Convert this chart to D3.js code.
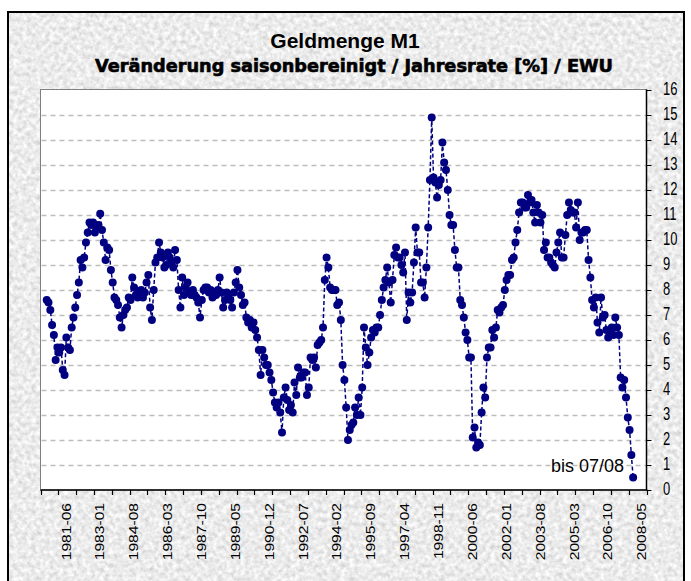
<!DOCTYPE html>
<html>
<head>
<meta charset="utf-8">
<script src="https://cdn.jsdelivr.net/npm/d3@7"></script>
<style>
  body { margin: 0; background: #fff; }
  text { font-family: "Liberation Sans", Arial, sans-serif; }
</style>
</head>
<body>
<svg id="chart" width="691" height="581"></svg>
<script>
// ---- data ----
var title = "Geldmenge M1";
var subtitle = "Veränderung saisonbereinigt / Jahresrate [%] / EWU";
var note = "bis 07/08";

var tickLabels = ["1981-06", "1983-01", "1984-08", "1986-03", "1987-10", "1989-05",
    "1990-12", "1992-07", "1994-02", "1995-09", "1997-04", "1998-11",
    "2000-06", "2002-01", "2003-08", "2005-03", "2006-10", "2008-05"];

var yTicks = [0, 1, 2, 3, 4, 5, 6, 7, 8, 9, 10, 11, 12, 13, 14, 15, 16];

// M1, Veränderung ggü. Vorjahr in %, monatlich
var m1Growth = [
    7.6, 7.5, 7.2, 6.6, 6.2, 5.2, 5.7, 5.5, 5.7, 4.8,
    4.6, 6.1, 5.7, 5.6, 6.5, 6.9, 7.3, 7.8, 8.3, 9.2,
    8.9, 9.3, 9.9, 10.3, 10.7, 10.6, 10.7, 10.3, 10.5, 10.6,
    11.05, 10.4, 9.9, 9.2, 9.7, 9.6, 8.8, 8.3, 7.7, 7.6,
    7.4, 6.9, 6.5, 7.0, 7.2, 7.3, 7.7, 7.6, 8.5, 8.1,
    7.8, 7.7, 7.9, 8.0, 7.7, 7.9, 8.3, 8.6, 7.3, 6.8,
    8.0, 9.1, 9.3, 9.9, 9.5, 9.3, 8.9, 9.0, 9.5, 9.3,
    9.1, 8.9, 9.6, 9.2, 8.0, 7.3, 8.5, 7.8, 8.1, 8.3,
    7.9, 7.8, 8.0, 7.8, 7.7, 7.5, 6.9, 7.6, 8.0, 8.1,
    8.1, 7.9, 8.0, 7.7, 7.8, 7.8, 8.0, 8.5, 7.9, 7.3,
    7.6, 7.9, 7.8, 7.6, 7.3, 7.9, 8.3, 8.8, 8.1, 7.8,
    7.4, 7.5, 6.9, 6.7, 6.8, 6.5, 6.7, 6.4, 6.1, 5.6,
    4.6, 5.6, 5.3, 5.0, 5.0, 4.7, 4.4, 3.9, 3.5, 3.3,
    3.5, 3.1, 2.3, 3.7, 4.1, 3.6, 3.2, 3.4, 3.1, 4.3,
    3.8, 4.9, 4.5, 4.5, 4.7, 4.7, 3.8, 4.1, 5.3, 5.2,
    5.3, 4.9, 5.8, 5.9, 6.0, 6.5, 8.4, 9.3, 8.9, 8.1,
    8.0, 8.0, 8.0, 7.4, 7.5, 6.8, 5.0, 4.4, 3.3, 2.0,
    2.4, 2.6, 2.7, 3.3, 3.0, 3.7, 3.0, 4.1, 6.5, 5.7,
    5.0, 5.5, 6.1, 6.4, 6.3, 6.5, 6.5, 7.0, 7.6, 8.1,
    8.4, 8.9, 8.3, 7.5, 8.4, 9.4, 9.7, 9.3, 9.3, 9.0,
    8.7, 9.5, 6.8, 7.9, 7.5, 7.9, 9.1, 10.5, 9.5, 9.5,
    8.3, 8.3, 7.7, 8.9, 10.5, 12.4, 14.9, 12.5, 12.3, 11.7,
    12.2, 12.4, 13.9, 13.1, 12.8, 12.0, 11.0, 10.6, 10.6, 9.6,
    8.9, 8.9, 7.6, 7.4, 6.9, 6.3, 6.0, 5.3, 5.3, 2.1,
    2.5, 1.7, 1.9, 1.8, 3.1, 4.1, 3.7, 5.3, 5.7, 5.7,
    6.4, 6.1, 6.5, 7.2, 7.1, 7.3, 7.4, 8.0, 8.4, 8.6,
    8.6, 9.2, 9.3, 9.9, 10.4, 11.1, 11.5, 11.5, 11.3, 11.3,
    11.8, 11.5, 11.6, 11.1, 10.7, 11.4, 11.1, 10.7, 11.0, 9.6,
    9.9, 9.3, 9.3, 9.1, 9.0, 8.9, 9.5, 9.9, 10.3, 9.3,
    9.3, 10.2, 11.0, 11.5, 11.2, 11.1, 11.1, 10.5, 11.5, 10.0,
    10.3, 10.3, 10.4, 10.4, 9.2, 8.5, 7.6, 7.3, 7.7, 6.7,
    6.3, 7.7, 6.9, 7.0, 6.4, 6.1, 6.3, 6.5, 6.2, 6.9,
    6.5, 6.2, 4.5, 4.1, 4.4, 3.7, 2.9, 2.4, 1.4, 0.5
];

// category axis (like the Excel one): 340 categories, tick every 10, label every 19
var categoryCount = 340;
var firstPoint = 3;
var tickEvery = 10;
var labelEvery = 19;
var firstLabel = 14;

// ---- layout ----
var svg = d3.select("#chart");
var plot = {left: 40.5, right: 646.5, top: 89.5, bottom: 490};
var navy = "#000080";

var x = d3.scaleLinear().domain([0, categoryCount]).range([plot.left, plot.right]);
var y = d3.scaleLinear().domain([0, 16]).range([plot.bottom, plot.top + 0.5]);

// grey marble background
var defs = svg.append("defs");
var grain = defs.append("filter").attr("id", "grain")
    .attr("x", 0).attr("y", 0).attr("width", 1).attr("height", 1);
grain.append("feTurbulence").attr("type", "fractalNoise")
    .attr("baseFrequency", "0.22").attr("numOctaves", 3).attr("seed", 7);
grain.append("feColorMatrix").attr("type", "matrix")
    .attr("values", "0.55 0 0 0 0.56  0.55 0 0 0 0.56  0.55 0 0 0 0.56  0 0 0 0 1");

svg.append("rect").attr("x", 8).attr("y", 12).attr("width", 676).attr("height", 600)
    .attr("fill", "#d6d6d6").attr("filter", "url(#grain)");
svg.append("rect").attr("x", 8).attr("y", 12).attr("width", 676).attr("height", 600)
    .attr("fill", "none").attr("stroke", "#000").attr("stroke-width", 2);

// titles
svg.append("text").attr("x", 345).attr("y", 48).attr("text-anchor", "middle")
    .style("font-size", "21px").style("font-weight", "bold").text(title);
svg.append("text").attr("x", 95).attr("y", 72)
    .attr("transform", "translate(0,-14.4) scale(1,1.2)")
    .attr("textLength", 518).attr("lengthAdjust", "spacingAndGlyphs")
    .attr("stroke", "#000").attr("stroke-width", 0.5)
    .style("font-family", "'DejaVu Sans', Verdana, sans-serif")
    .style("font-size", "14px").style("font-weight", "bold").text(subtitle);

// plot area
svg.append("rect").attr("x", plot.left).attr("y", plot.top)
    .attr("width", plot.right - plot.left).attr("height", plot.bottom - plot.top)
    .attr("fill", "#fff").attr("stroke", "#808080").attr("stroke-width", 1);

// gridlines
svg.append("g").selectAll("line")
    .data(yTicks.filter(function(d){ return d > 0 && d < 16; }))
    .enter().append("line")
    .attr("x1", plot.left + 1).attr("x2", plot.right)
    .attr("y1", function(d){ return Math.round(y(d)) + 0.5; })
    .attr("y2", function(d){ return Math.round(y(d)) + 0.5; })
    .attr("stroke", "#bdbdbd").attr("stroke-width", 1.5)
    .attr("stroke-dasharray", "5,4");

// axes lines
svg.append("line").attr("x1", plot.right).attr("x2", plot.right)
    .attr("y1", plot.top).attr("y2", plot.bottom)
    .attr("stroke", "#000").attr("stroke-width", 1.5);
svg.append("line").attr("x1", plot.left).attr("x2", plot.right + 0.75)
    .attr("y1", plot.bottom).attr("y2", plot.bottom)
    .attr("stroke", "#000").attr("stroke-width", 1.5);

// y ticks + labels (right side)
var yAxis = svg.append("g");
yAxis.selectAll("line").data(yTicks).enter().append("line")
    .attr("x1", plot.right).attr("x2", plot.right + 5)
    .attr("y1", function(d){ return Math.round(y(d)) + 0.5; })
    .attr("y2", function(d){ return Math.round(y(d)) + 0.5; })
    .attr("stroke", "#000").attr("stroke-width", 1);
yAxis.selectAll("text").data(yTicks).enter().append("text")
    .attr("transform", function(d){ return "translate(663," + (y(d) + 4.5) + ") scale(1,1.35)"; })
    .style("font-size", "13px").text(function(d){ return d; });

// x ticks + labels
var xTickIdx = d3.range(0, categoryCount + 1, tickEvery);
svg.append("g").selectAll("line").data(xTickIdx).enter().append("line")
    .attr("x1", function(d){ return Math.round(x(d)) + 0.5; })
    .attr("x2", function(d){ return Math.round(x(d)) + 0.5; })
    .attr("y1", plot.bottom).attr("y2", plot.bottom + 5)
    .attr("stroke", "#000").attr("stroke-width", 1.2);

svg.append("g").selectAll("text").data(tickLabels).enter().append("text")
    .attr("transform", function(d, i){
        var cx = x(firstLabel + i * labelEvery + 0.5);
        return "translate(" + cx + ",503) rotate(-90) scale(1.3,1)";
    })
    .attr("text-anchor", "end").attr("dy", "0.35em")
    .style("font-size", "12px").text(function(d){ return d; });

// series
var pts = m1Growth.map(function(v, i){ return [x(firstPoint + i + 0.5), y(v)]; });

svg.append("path").datum(pts)
    .attr("d", d3.line())
    .attr("fill", "none").attr("stroke", navy).attr("stroke-width", 1.5)
    .attr("stroke-dasharray", "4,2.5");

svg.append("g").selectAll("circle").data(pts).enter().append("circle")
    .attr("cx", function(d){ return d[0]; })
    .attr("cy", function(d){ return d[1]; })
    .attr("r", 4).attr("fill", navy);

// note
svg.append("text").attr("x", 624).attr("y", 472).attr("text-anchor", "end")
    .attr("transform", "translate(0,-153) scale(1,1.325)")
    .attr("textLength", 73).attr("lengthAdjust", "spacingAndGlyphs")
    .style("font-size", "14px").text(note);
</script>
</body>
</html>
